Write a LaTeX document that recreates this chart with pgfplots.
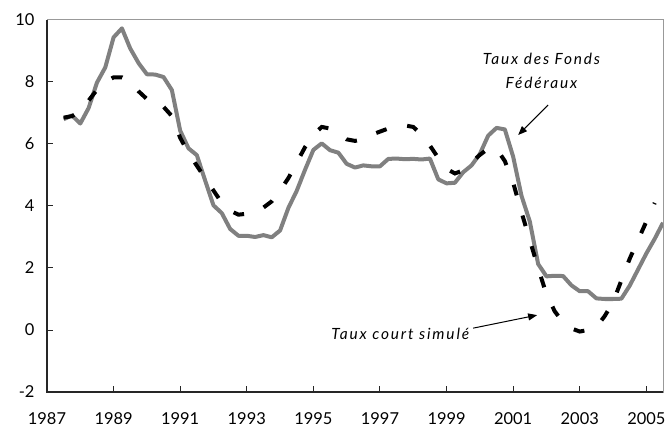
\documentclass[border=0pt]{standalone}
\usepackage{fontspec}
\setmainfont{Lato}
\newfontfamily\annfont[LetterSpace=12]{Lato Italic}
\usepackage{pgfplots}
\usepackage{pgfplotstable}
\pgfplotsset{compat=1.18}
\usetikzlibrary{arrows.meta}

\pgfplotstableread{
x y
1987.50 6.80
1987.75 6.92
1988.00 6.66
1988.25 7.16
1988.50 7.98
1988.75 8.47
1989.00 9.44
1989.25 9.73
1989.50 9.08
1989.75 8.61
1990.00 8.25
1990.25 8.24
1990.50 8.16
1990.75 7.74
1991.00 6.43
1991.25 5.86
1991.50 5.64
1991.75 4.82
1992.00 4.02
1992.25 3.77
1992.50 3.26
1992.75 3.04
1993.00 3.04
1993.25 3.00
1993.50 3.06
1993.75 2.99
1994.00 3.21
1994.25 3.94
1994.50 4.49
1994.75 5.17
1995.00 5.81
1995.25 6.02
1995.50 5.80
1995.75 5.72
1996.00 5.36
1996.25 5.24
1996.50 5.31
1996.75 5.28
1997.00 5.28
1997.25 5.52
1997.50 5.53
1997.75 5.51
1998.00 5.52
1998.25 5.50
1998.50 5.53
1998.75 4.86
1999.00 4.73
1999.25 4.75
1999.50 5.09
1999.75 5.31
2000.00 5.68
2000.25 6.27
2000.50 6.52
2000.75 6.47
2001.00 5.59
2001.25 4.33
2001.50 3.50
2001.75 2.13
2002.00 1.73
2002.25 1.75
2002.50 1.74
2002.75 1.44
2003.00 1.25
2003.25 1.25
2003.50 1.02
2003.75 1.00
2004.00 1.00
2004.25 1.01
2004.50 1.43
2004.75 1.95
2005.00 2.47
2005.25 2.94
2005.50 3.46
}\fed

\pgfplotstableread{
x y
1987.50 6.85
1987.75 6.90
1988.00 7.05
1988.25 7.40
1988.50 7.75
1988.75 8.00
1989.00 8.15
1989.25 8.15
1989.50 8.00
1989.75 7.70
1990.00 7.45
1990.25 7.45
1990.50 7.20
1990.75 6.90
1991.00 6.20
1991.25 5.70
1991.50 5.30
1991.75 4.90
1992.00 4.50
1992.25 4.10
1992.50 3.85
1992.75 3.72
1993.00 3.75
1993.25 3.80
1993.50 3.95
1993.75 4.15
1994.00 4.50
1994.25 4.90
1994.50 5.40
1994.75 5.90
1995.00 6.30
1995.25 6.55
1995.50 6.50
1995.75 6.35
1996.00 6.15
1996.25 6.10
1996.50 6.15
1996.75 6.30
1997.00 6.40
1997.25 6.50
1997.50 6.55
1997.75 6.60
1998.00 6.55
1998.25 6.30
1998.50 5.95
1998.75 5.55
1999.00 5.20
1999.25 5.05
1999.50 5.15
1999.75 5.40
2000.00 5.65
2000.25 5.85
2000.50 5.85
2000.75 5.45
2001.00 4.75
2001.25 3.80
2001.50 2.90
2001.75 2.00
2002.00 1.15
2002.25 0.60
2002.50 0.25
2002.75 0.05
2003.00 -0.05
2003.25 0.00
2003.50 0.10
2003.75 0.45
2004.00 0.90
2004.25 1.60
2004.50 2.30
2004.75 2.90
2005.00 3.50
2005.25 4.10
}\sim

\begin{document}
\begin{tikzpicture}
\begin{axis}[
  scale only axis, width=616bp, height=372bp,
  xmin=1987, xmax=2005.5, ymin=-2, ymax=10,
  xtick={1987,1989,...,2005}, ytick={-2,0,...,10},
  xticklabel style={/pgf/number format/1000 sep={}, yshift=-17bp},
  yticklabel style={xshift=-9bp},
  ticklabel style={font=\fontsize{16.5}{18}\selectfont},
  /pgf/number format/assume math mode=true,
  tick align=inside, xtick pos=bottom, ytick pos=left,
  major tick length=6bp,
  tick style={black!85, line width=1bp},
  axis line style={gray!80, line width=1bp},
  clip mode=individual,
]
\addplot[color=gray, line width=4bp, line join=round] table[x=x,y=y] {\fed};
\addplot[color=black, line width=4bp, dash pattern=on 11bp off 21bp] table[x=x,y=y] {\sim};
\draw[black!85, line width=1.3bp] (rel axis cs:0,1) -- (rel axis cs:0,0) -- (rel axis cs:1,0);
\node[align=center, font=\annfont\fontsize{15.5}{24}\selectfont] at (axis cs:2001.85,8.35) {Taux des Fonds\\Fédéraux};
\draw[line width=1bp, -{Triangle[length=9bp,width=7bp]}] (axis cs:2002.05,7.26) -- (axis cs:2001.15,6.29);
\node[font=\annfont\fontsize{15.5}{18}\selectfont] at (axis cs:1997.61,-0.13) {Taux court simulé};
\draw[line width=1bp, -{Triangle[length=9bp,width=7bp]}] (axis cs:1999.8,0.06) -- (axis cs:2001.72,0.48);
\coordinate (bl) at (rel axis cs:0,0);
\coordinate (tr) at (rel axis cs:1,1);
\end{axis}
\pgfresetboundingbox
\path[use as bounding box] ([shift={(-47bp,-36bp)}]bl) rectangle ([shift={(4bp,20bp)}]tr);
\end{tikzpicture}
\end{document}
